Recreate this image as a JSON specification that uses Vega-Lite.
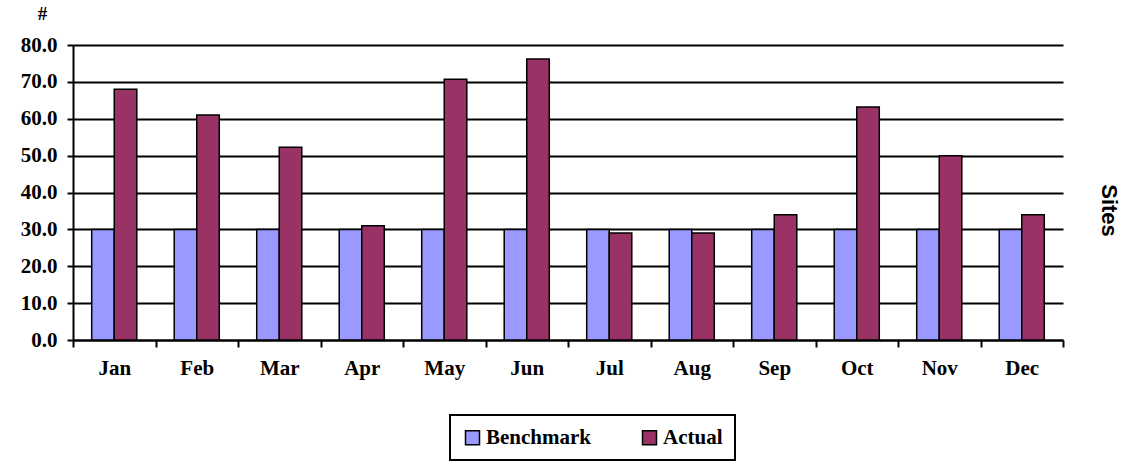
{
  "$schema": "https://vega.github.io/schema/vega-lite/v6.json",
  "autosize": {"type": "none"},
  "padding": {"left": 73, "top": 45, "right": 74, "bottom": 125},
  "width": 990,
  "height": 295,
  "background": "white",
  "data": {
    "values": [
      {"month": "Jan", "series": "Benchmark", "value": 30}, {"month": "Jan", "series": "Actual", "value": 68},
      {"month": "Feb", "series": "Benchmark", "value": 30}, {"month": "Feb", "series": "Actual", "value": 61},
      {"month": "Mar", "series": "Benchmark", "value": 30}, {"month": "Mar", "series": "Actual", "value": 52.3},
      {"month": "Apr", "series": "Benchmark", "value": 30}, {"month": "Apr", "series": "Actual", "value": 31},
      {"month": "May", "series": "Benchmark", "value": 30}, {"month": "May", "series": "Actual", "value": 70.7},
      {"month": "Jun", "series": "Benchmark", "value": 30}, {"month": "Jun", "series": "Actual", "value": 76.2},
      {"month": "Jul", "series": "Benchmark", "value": 30}, {"month": "Jul", "series": "Actual", "value": 29},
      {"month": "Aug", "series": "Benchmark", "value": 30}, {"month": "Aug", "series": "Actual", "value": 29},
      {"month": "Sep", "series": "Benchmark", "value": 30}, {"month": "Sep", "series": "Actual", "value": 34},
      {"month": "Oct", "series": "Benchmark", "value": 30}, {"month": "Oct", "series": "Actual", "value": 63.2},
      {"month": "Nov", "series": "Benchmark", "value": 30}, {"month": "Nov", "series": "Actual", "value": 50},
      {"month": "Dec", "series": "Benchmark", "value": 30}, {"month": "Dec", "series": "Actual", "value": 34}
    ]
  },
  "layer": [
    {
      "mark": {"type": "bar", "stroke": "black", "strokeWidth": 1.5},
      "encoding": {
        "x": {
          "field": "month", "type": "nominal",
          "sort": ["Jan","Feb","Mar","Apr","May","Jun","Jul","Aug","Sep","Oct","Nov","Dec"],
          "scale": {"paddingInner": 0, "paddingOuter": 0},
          "axis": {
            "title": null, "labelAngle": 0, "tickBand": "extent",
            "ticks": true, "tickSize": 7, "tickWidth": 2, "tickColor": "black", "tickOpacity": 1,
            "domainColor": "black", "domainWidth": 2,
            "labelFont": "Liberation Serif", "labelFontWeight": "bold", "labelFontSize": 21,
            "labelColor": "black", "labelPadding": 10
          }
        },
        "xOffset": {"field": "series", "type": "nominal", "sort": ["Benchmark", "Actual"],
          "scale": {"paddingInner": 0, "paddingOuter": 0.83}},
        "y": {
          "field": "value", "type": "quantitative",
          "scale": {"domain": [0, 80], "nice": false},
          "axis": {
            "values": [0,10,20,30,40,50,60,70,80], "format": ".1f",
            "grid": true, "gridColor": "black", "gridWidth": 2, "gridOpacity": 1,
            "tickSize": 6, "tickWidth": 2, "tickColor": "black",
            "domainColor": "black", "domainWidth": 2,
            "labelFont": "Liberation Serif", "labelFontWeight": "bold", "labelFontSize": 21,
            "labelColor": "black", "labelPadding": 10,
            "title": "#", "titleAngle": 0, "titleX": -31, "titleY": -32,
            "titleAlign": "center", "titleBaseline": "middle",
            "titleFont": "Liberation Serif", "titleFontWeight": "bold", "titleFontSize": 19, "titleColor": "black"
          }
        },
        "color": {
          "field": "series", "type": "nominal",
          "sort": ["Benchmark", "Actual"],
          "scale": {"domain": ["Benchmark", "Actual"], "range": ["#9999FF", "#993366"]},
          "legend": {
            "title": null, "orient": "none", "direction": "horizontal",
            "legendX": 377, "legendY": 370,
            "strokeColor": "black", "fillColor": "white",
            "padding": 12, "columnPadding": 48,
            "symbolType": "square", "symbolSize": 196, "symbolStrokeColor": "black", "symbolStrokeWidth": 1.5,
            "symbolOpacity": 1, "labelOffset": 3,
            "labelFont": "Liberation Serif", "labelFontWeight": "bold", "labelFontSize": 21, "labelColor": "black",
            "encode": {"legend": {"update": {"strokeWidth": {"value": 2}}}}
          }
        }
      }
    },
    {
      "mark": {"type": "rule", "opacity": 0},
      "encoding": {
        "y": {
          "field": "value", "type": "quantitative",
          "scale": {"domain": [0, 80], "nice": false},
          "axis": {
            "orient": "right", "labels": false, "ticks": false, "domain": false, "grid": false,
            "title": "Sites", "titleAngle": 90, "titleX": 45, "titleY": 165,
            "titleAlign": "center", "titleBaseline": "middle",
            "titleFont": "Liberation Sans", "titleFontWeight": "bold", "titleFontSize": 22, "titleColor": "black"
          }
        }
      }
    }
  ],
  "resolve": {"axis": {"y": "independent"}},
  "config": {"view": {"stroke": null}}
}
